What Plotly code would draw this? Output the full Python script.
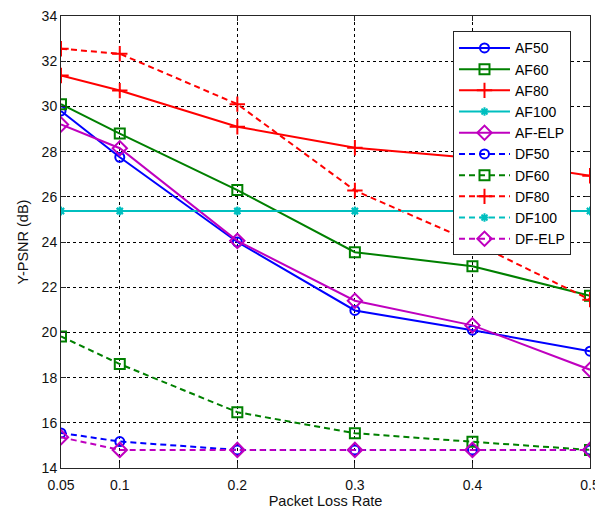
import plotly.graph_objects as go

loss_rate = [0.05, 0.1, 0.2, 0.3, 0.4, 0.5]
x_tick_vals = [0.05, 0.1, 0.2, 0.3, 0.4, 0.5]
x_tick_text = ["0.05", "0.1", "0.2", "0.3", "0.4", "0.5"]
y_tick_vals = [14, 16, 18, 20, 22, 24, 26, 28, 30, 32, 34]

af50 = [29.8, 27.75, 24.0, 20.97, 20.1, 19.17]
af60 = [30.1, 28.8, 26.3, 23.55, 22.93, 21.62]
af80 = [31.37, 30.7, 29.1, 28.17, 27.72, 26.93]
af100 = [25.37, 25.37, 25.37, 25.37, 25.37, 25.37]
af_elp = [29.2, 28.15, 24.05, 21.4, 20.31, 18.35]
df50 = [15.55, 15.17, 14.8, 14.8, 14.8, 14.8]
df60 = [19.82, 18.6, 16.47, 15.54, 15.16, 14.8]
df80 = [32.55, 32.33, 30.1, 26.28, 24.0, 21.45]
df100 = [25.37, 25.37, 25.37, 25.37, 25.37, 25.37]
df_elp = [15.36, 14.8, 14.8, 14.8, 14.8, 14.8]

series = [
    ("AF50", af50, "#0000FF", "circle-open", "solid", 9),
    ("AF60", af60, "#008000", "square-open", "solid", 10),
    ("AF80", af80, "#FF0000", "cross-thin-open", "solid", 11),
    ("AF100", af100, "#00BFBF", "asterisk-open", "solid", 7),
    ("AF-ELP", af_elp, "#BF00BF", "diamond-open", "solid", 11),
    ("DF50", df50, "#0000FF", "circle-open", "6px,4px", 9),
    ("DF60", df60, "#008000", "square-open", "6px,4px", 10),
    ("DF80", df80, "#FF0000", "cross-thin-open", "6px,4px", 11),
    ("DF100", df100, "#00BFBF", "asterisk-open", "6px,4px", 7),
    ("DF-ELP", df_elp, "#BF00BF", "diamond-open", "6px,4px", 11),
]

fig = go.Figure()
for name, vals, color, sym, dash, msize in series:
    fig.add_trace(go.Scatter(
        x=loss_rate, y=vals, name=name, mode="lines+markers",
        line=dict(color=color, width=2, dash=dash),
        marker=dict(symbol=sym, size=msize, color=color,
                    line=dict(color=color, width=2)),
    ))

axis_common = dict(
    automargin=False,
    ticklabeloverflow="allow",
    showline=True, linecolor="#262626", linewidth=1, mirror="ticks",
    ticks="inside", ticklen=5, tickcolor="#262626", tickwidth=1,
    showgrid=True, gridcolor="#000000", gridwidth=1, griddash="dot",
    zeroline=False,
    tickfont=dict(family="Arial, Liberation Sans", size=14, color="#111111"),
    title_font=dict(family="Arial, Liberation Sans", size=14.5, color="#111111"),
)

fig.update_xaxes(
    range=[0.05, 0.5], tickvals=x_tick_vals, ticktext=x_tick_text,
    ticklabelstandoff=4,
    title_text="Packet Loss Rate", title_standoff=2, **axis_common,
)
fig.update_yaxes(
    range=[14, 34], tickvals=y_tick_vals,
    title_text="Y-PSNR (dB)", title_standoff=9, **axis_common,
)

fig.update_layout(
    width=595, height=503,
    margin=dict(l=53, r=13, t=8, b=43),
    paper_bgcolor="white", plot_bgcolor="white",
    showlegend=True,
    legend=dict(
        x=0.741, y=0.966, xanchor="left", yanchor="top",
        bgcolor="white", bordercolor="#262626", borderwidth=1,
        font=dict(family="Arial, Liberation Sans", size=14, color="#000000"),
        itemwidth=51,
    ),
)

fig.write_html("out.html")
